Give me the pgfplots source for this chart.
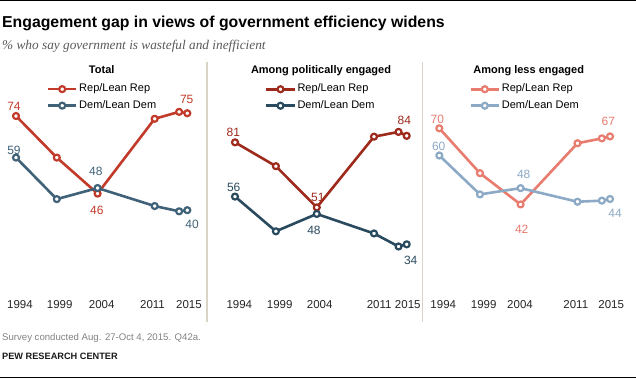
\documentclass[border=0pt]{standalone}
\usepackage{pgfplots}
\pgfplotsset{compat=1.18}
\usepackage{fontspec}
\setmainfont{Liberation Sans}
\newfontfamily\seriffont{Liberation Serif}
\definecolor{rep1}{RGB}{194,58,41}
\definecolor{dem1}{RGB}{63,98,120}
\definecolor{rep2}{RGB}{158,42,28}
\definecolor{dem2}{RGB}{42,75,95}
\definecolor{rep3}{RGB}{232,124,110}
\definecolor{dem3}{RGB}{140,170,198}
\definecolor{sep}{RGB}{217,212,198}
\tikzset{lbl/.style={font=\fontsize{12}{12}\selectfont, inner sep=0pt, anchor=center}}
\pgfplotsset{
  panel/.style={scale only axis, xmin=1994, xmax=2016, ymin=0, ymax=100, clip=false,
    axis line style={draw=none}, tick style={draw=none}, major tick length=0pt,
    ytick=\empty, xticklabels={1994,1999,2004,2011,2015},
    xticklabel style={anchor=base, font=\fontsize{11.5}{13}\selectfont, text=black!85},
    legend cell align=left,
    legend style={draw=none, fill=none, inner sep=0pt, outer sep=0pt, anchor=north west,
      row sep=6pt, font=\fontsize{11}{13}\selectfont,
      nodes={inner sep=0pt, text height=8pt, text depth=2.5pt},
      /tikz/every odd column/.append style={column sep=1.5pt}},
    legend image code/.code={\draw[mark repeat=2,mark phase=2] plot coordinates {(0pt,0pt)(14.2pt,0pt)(28.4pt,0pt)};}},
  ser/.style={line width=2.6pt, line join=round, mark=*, mark size=3pt,
    mark options={fill=white, line width=2.2pt, solid}}
}
\begin{document}
\begin{tikzpicture}
\useasboundingbox (0,0) rectangle (636pt,379pt);
\fill[white] (0,0) rectangle (636pt,379pt);
\draw[line width=1.4pt] (0,378.3pt) -- (636pt,378.3pt);
\draw[line width=1.2pt] (0,1.7pt) -- (636pt,1.7pt);
\draw[sep, line width=1.7pt] (206.7pt,317pt) -- (206.7pt,57pt);
\draw[sep, line width=1.7pt] (422.5pt,317pt) -- (422.5pt,57pt);
\node[anchor=base west, inner sep=0pt, font=\fontsize{15.8}{18}\selectfont\bfseries] at (2pt,351pt) {Engagement gap in views of government efficiency widens};
\node[anchor=base west, inner sep=0pt, font=\fontsize{13.3}{15}\selectfont\seriffont\itshape, text={rgb,255:red,90;green,90;blue,90}] at (2pt,329.7pt) {\% who say government is wasteful and inefficient};
\node[anchor=base, inner sep=0pt, font=\fontsize{11}{13}\selectfont\bfseries] at (101.7pt,305pt) {Total};
\node[anchor=base, inner sep=0pt, font=\fontsize{11}{13}\selectfont\bfseries] at (321pt,305pt) {Among politically engaged};
\node[anchor=base, inner sep=0pt, font=\fontsize{11}{13}\selectfont\bfseries] at (528.7pt,305pt) {Among less engaged};
\node[anchor=base west, inner sep=0pt, font=\fontsize{9.6}{12}\selectfont, text={rgb,255:red,130;green,130;blue,130}] at (2pt,38.7pt) {Survey conducted Aug. 27-Oct 4, 2015. Q42a.};
\node[anchor=base west, inner sep=0pt, font=\fontsize{9.2}{11}\selectfont\bfseries, text=black!90] at (2pt,19pt) {PEW RESEARCH CENTER};

% Panel 1: Total
\begin{axis}[panel, at={(16pt,58pt)}, anchor=south west, width=179.46pt, height=277pt,
  xtick={1994.49,1999.36,2004.51,2010.73,2015.2},
  xticklabel style={yshift=12pt},
  legend style={at={(axis description cs:0.1711,0.856)}}]
\addplot[ser, color=rep1] coordinates {(1994,74)(1999,59)(2004,46)(2011,73)(2014,75.5)(2015,75)};
\addplot[ser, color=dem1] coordinates {(1994,59)(1999,44)(2004,48)(2011,41.5)(2014,39.6)(2015,40)};
\legend{Rep/Lean Rep, Dem/Lean Dem}
\node[lbl, text=rep1, xshift=-2pt, yshift=9.3pt] at (axis cs:1994,74) {74};
\node[lbl, text=dem1, xshift=-2pt, yshift=7.6pt] at (axis cs:1994,59) {59};
\node[lbl, text=dem1, xshift=-1.7pt, yshift=16.7pt] at (axis cs:2004,48) {48};
\node[lbl, text=rep1, xshift=-0.7pt, yshift=-17.1pt] at (axis cs:2004,46) {46};
\node[lbl, text=rep1, xshift=-0.6pt, yshift=14.3pt] at (axis cs:2015,75) {75};
\node[lbl, text=dem1, xshift=4.7pt, yshift=-13.8pt] at (axis cs:2015,40) {40};
\end{axis}

% Panel 2: politically engaged
\begin{axis}[panel, at={(235pt,60.9pt)}, anchor=south west, width=179.88pt, height=217pt,
  xtick={1994.53,1999.47,2004.36,2011.63,2015.13},
  xticklabel style={yshift=9.1pt},
  legend style={at={(axis description cs:0.1668,1.0788)}}]
\addplot[ser, color=rep2] coordinates {(1994,81)(1999,70)(2004,51)(2011,83.6)(2014,85.8)(2015,84)};
\addplot[ser, color=dem2] coordinates {(1994,56)(1999,40)(2004,48)(2011,39)(2014,33)(2015,34)};
\legend{Rep/Lean Rep, Dem/Lean Dem}
\node[lbl, text=rep2, xshift=-1.7pt, yshift=10pt] at (axis cs:1994,81) {81};
\node[lbl, text=dem2, xshift=-1.3pt, yshift=9.1pt] at (axis cs:1994,56) {56};
\node[lbl, text=rep2, xshift=1pt, yshift=10.1pt] at (axis cs:2004,51) {51};
\node[lbl, text=dem2, xshift=-2.8pt, yshift=-16.8pt] at (axis cs:2004,48) {48};
\node[lbl, text=rep2, xshift=-2.4pt, yshift=15.1pt] at (axis cs:2015,84) {84};
\node[lbl, text=dem2, xshift=4pt, yshift=-15.7pt] at (axis cs:2015,34) {34};
\end{axis}

% Panel 3: less engaged
\begin{axis}[panel, at={(439.3pt,60.3pt)}, anchor=south west, width=178.83pt, height=272pt,
  xtick={1994.49,1999.46,2003.93,2010.79,2015.15},
  xticklabel style={yshift=9.7pt},
  legend style={at={(axis description cs:0.1678,0.8629)}}]
\addplot[ser, color=rep3] coordinates {(1994,70)(1999,53.5)(2004,42)(2011,64.5)(2014,66.3)(2015,67)};
\addplot[ser, color=dem3] coordinates {(1994,60)(1999,45.7)(2004,48)(2011,43)(2014,43.4)(2015,44)};
\legend{Rep/Lean Rep, Dem/Lean Dem}
\node[lbl, text=rep3, xshift=-2pt, yshift=9.3pt] at (axis cs:1994,70) {70};
\node[lbl, text=dem3, xshift=-0.6pt, yshift=8.8pt] at (axis cs:1994,60) {60};
\node[lbl, text=dem3, xshift=3.1pt, yshift=14.1pt] at (axis cs:2004,48) {48};
\node[lbl, text=rep3, xshift=1.1pt, yshift=-24.5pt] at (axis cs:2004,42) {42};
\node[lbl, text=rep3, xshift=-1.7pt, yshift=15.2pt] at (axis cs:2015,67) {67};
\node[lbl, text=dem3, xshift=5pt, yshift=-14.3pt] at (axis cs:2015,44) {44};
\end{axis}
\end{tikzpicture}
\end{document}
